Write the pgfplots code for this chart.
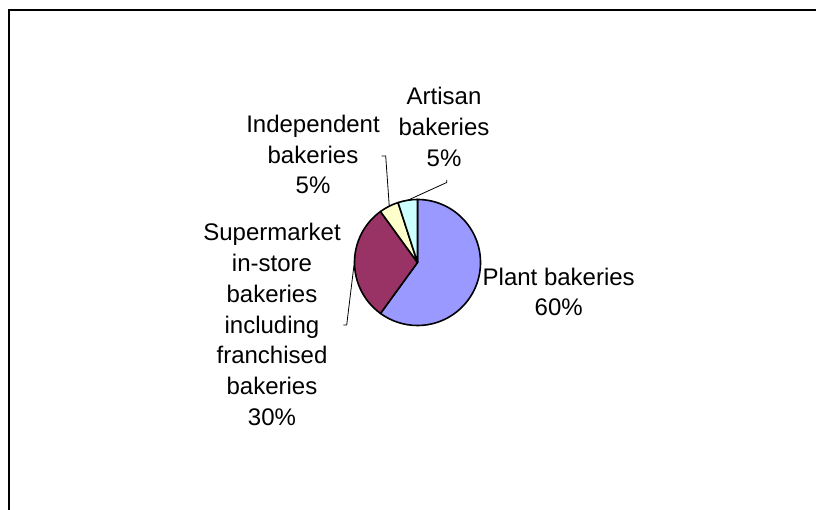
\documentclass[border=0pt]{standalone}
\usepackage{pgfplots}
\pgfplotsset{compat=1.18}
\usepackage{pgfplotstable}
\usepackage{fontspec}
\setmainfont{Liberation Sans}
\definecolor{pieblue}{HTML}{9999FF}
\definecolor{pieplum}{HTML}{993366}
\definecolor{pieyellow}{HTML}{FFFFCC}
\definecolor{piecyan}{HTML}{CCFFFF}
\begin{document}
\begin{tikzpicture}
\useasboundingbox (0,0) rectangle (816pt,510pt);
\fill[white] (0,0) rectangle (816pt,510pt);
\begin{axis}[
  at={(0,0)}, anchor=south west,
  scale only axis, width=816pt, height=510pt,
  xmin=0, xmax=816, ymin=0, ymax=510,
  hide axis, clip=false,
  after end axis/.code={
    % frame (top and left edges)
    \draw[line width=1.6pt] (axis cs:9,0) -- (axis cs:9,500) -- (axis cs:816,500);
    % pie slices: values in percent, clockwise from 12 o'clock
    \def\startang{90}
    \foreach \v/\c in {60/pieblue,30/pieplum,5/pieyellow,5/piecyan}{
      \pgfmathsetmacro\endang{\startang-3.6*\v}
      \filldraw[fill=\c,draw=black,line width=1.6pt,line join=round]
        (axis cs:417.5,247.5) -- ++(\startang:63pt)
        arc[start angle=\startang,end angle=\endang,radius=63pt] -- cycle;
      \global\let\startang\endang
    }
    % leader lines
    \draw[line width=0.8pt] (axis cs:381.7,354) -- (axis cs:385.7,354) -- (axis cs:389.3,303.3);
    \draw[line width=0.8pt] (axis cs:446.7,330) -- (axis cs:446.7,327.5) -- (axis cs:408.3,310);
    \draw[line width=0.8pt] (axis cs:343.3,185) -- (axis cs:346.7,185) -- (axis cs:354,245);
    % labels
    \begingroup
    \fontsize{24}{30.8}\selectfont
    \node[align=center] at (axis cs:444,383.3) {Artisan\\bakeries\\5\%};
    \node[align=center] at (axis cs:313,355.5) {Independent\\bakeries\\5\%};
    \node[align=center] at (axis cs:272,185.5) {Supermarket\\in-store\\bakeries\\including\\franchised\\bakeries\\30\%};
    \node[align=center] at (axis cs:558.7,218) {Plant bakeries\\60\%};
    \endgroup
  }
]
\addplot[draw=none] coordinates {(0,0)};
\end{axis}
\end{tikzpicture}
\end{document}
